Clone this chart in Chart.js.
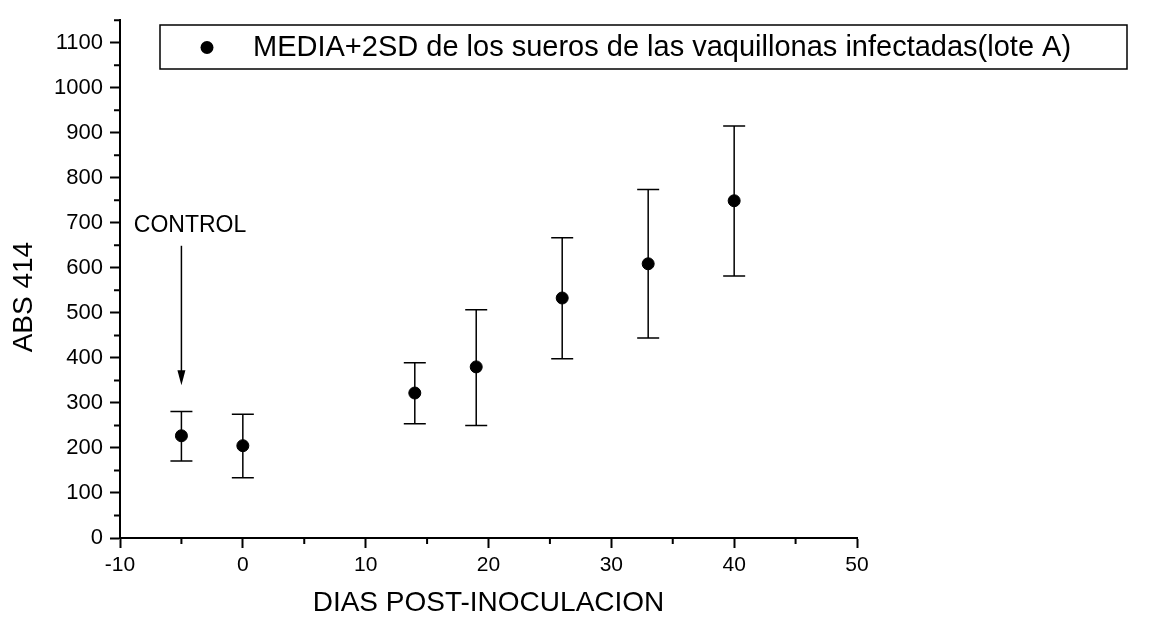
<!DOCTYPE html>
<html>
<head>
<meta charset="utf-8">
<script src="https://cdn.jsdelivr.net/npm/chart.js@4.4.1/dist/chart.umd.min.js"></script>
<style>
    html, body { margin: 0; padding: 0; background: #fff; }
    #wrap { width: 1156px; height: 622px; }
</style>
</head>
<body>
<div id="wrap"><canvas id="chart" width="1156" height="622"></canvas></div>
<script>
// values
const days = [-5, 0, 14, 19, 26, 33, 40];
const meanAbs = [227, 205, 322, 380, 533, 609, 749];
const lowerAbs = [171, 134, 254, 250, 398, 444, 582];
const upperAbs = [281, 275, 389, 507, 667, 774, 915];

const xTicks = [-10, 0, 10, 20, 30, 40, 50];
const xMinorTicks = [-5, 5, 15, 25, 35, 45];
const yTicks = [0, 100, 200, 300, 400, 500, 600, 700, 800, 900, 1000, 1100];
const yMinorTicks = [50, 150, 250, 350, 450, 550, 650, 750, 850, 950, 1050, 1150];

const seriesLabel = 'MEDIA+2SD de los sueros de las vaquillonas infectadas(lote A)';
const yTitle = 'ABS 414';
const FONT = "'Liberation Sans', Arial, sans-serif";

const errorBarPlugin = {
    id: 'errorBars',
    beforeDatasetsDraw(chart) {
        const { ctx, scales: { x, y } } = chart;
        ctx.save();
        ctx.strokeStyle = '#000';
        ctx.lineWidth = 1.5;
        days.forEach((d, i) => {
            const px = x.getPixelForValue(d);
            const top = y.getPixelForValue(upperAbs[i]);
            const bottom = y.getPixelForValue(lowerAbs[i]);
            ctx.beginPath();
            ctx.moveTo(px, top);
            ctx.lineTo(px, bottom);
            ctx.moveTo(px - 11, top);
            ctx.lineTo(px + 11, top);
            ctx.moveTo(px - 11, bottom);
            ctx.lineTo(px + 11, bottom);
            ctx.stroke();
        });
        ctx.restore();
    }
};

const minorTickPlugin = {
    id: 'minorTicks',
    afterDraw(chart) {
        const { ctx, scales: { x, y } } = chart;
        ctx.save();
        ctx.strokeStyle = '#000';
        ctx.lineWidth = 2;
        ctx.beginPath();
        xMinorTicks.forEach(v => {
            const px = x.getPixelForValue(v);
            ctx.moveTo(px, x.top);
            ctx.lineTo(px, x.top + 6);
        });
        yMinorTicks.forEach(v => {
            const py = y.getPixelForValue(v);
            ctx.moveTo(y.right, py);
            ctx.lineTo(y.right - 6, py);
        });
        ctx.stroke();

        // y title, sits a bit below the middle of the axis in the original
        ctx.fillStyle = '#000';
        ctx.font = '28px ' + FONT;
        ctx.textAlign = 'center';
        ctx.textBaseline = 'middle';
        ctx.translate(24, y.getPixelForValue(535));
        ctx.rotate(-Math.PI / 2);
        ctx.fillText(yTitle, 0, 0);
        ctx.restore();
    }
};

// "CONTROL" note with the arrow pointing at the first point
const controlNote = { text: 'CONTROL', x: -4.3, textY: 693, arrowFrom: 649, arrowTo: 339 };

const annotationPlugin = {
    id: 'controlNote',
    afterDatasetsDraw(chart) {
        const { ctx, scales: { x, y } } = chart;
        ctx.save();
        ctx.fillStyle = '#000';
        ctx.strokeStyle = '#000';
        ctx.font = '23px ' + FONT;
        ctx.textAlign = 'center';
        ctx.textBaseline = 'middle';
        ctx.fillText(controlNote.text, x.getPixelForValue(controlNote.x), y.getPixelForValue(controlNote.textY));

        const ax = x.getPixelForValue(days[0]);
        const y1 = y.getPixelForValue(controlNote.arrowFrom);
        const y2 = y.getPixelForValue(controlNote.arrowTo);
        ctx.lineWidth = 1.5;
        ctx.beginPath();
        ctx.moveTo(ax, y1);
        ctx.lineTo(ax, y2 - 10);
        ctx.stroke();
        ctx.beginPath();
        ctx.moveTo(ax, y2);
        ctx.lineTo(ax - 4, y2 - 15);
        ctx.lineTo(ax + 4, y2 - 15);
        ctx.closePath();
        ctx.fill();
        ctx.restore();
    }
};

const legendBoxPlugin = {
    id: 'legendBox',
    afterDraw(chart) {
        const { ctx } = chart;
        ctx.save();
        ctx.fillStyle = '#fff';
        ctx.fillRect(160, 25, 967, 44);
        ctx.strokeStyle = '#000';
        ctx.lineWidth = 1.5;
        ctx.strokeRect(160, 25, 967, 44);
        ctx.fillStyle = '#000';
        ctx.beginPath();
        ctx.arc(207, 47.5, 6.5, 0, Math.PI * 2);
        ctx.fill();
        ctx.font = '29px ' + FONT;
        ctx.textAlign = 'left';
        ctx.textBaseline = 'middle';
        ctx.fillText(chart.data.datasets[0].label, 253, 48);
        ctx.restore();
    }
};

function drawChart() {
    const data = {
        datasets: [{
            label: seriesLabel,
            data: days.map((d, i) => ({ x: d, y: meanAbs[i] })),
            backgroundColor: '#000',
            borderColor: '#000',
            pointRadius: 6,
            pointBorderWidth: 1,
            showLine: false
        }]
    };

    const config = {
        type: 'scatter',
        data: data,
        options: {
            responsive: false,
            animation: false,
            layout: {
                padding: { top: 12, right: 299, left: 0, bottom: 0 }
            },
            plugins: {
                legend: { display: false },
                tooltip: { enabled: false }
            },
            scales: {
                x: {
                    type: 'linear',
                    min: -10,
                    max: 50,
                    afterBuildTicks: scale => { scale.ticks = xTicks.map(v => ({ value: v })); },
                    afterFit: scale => { scale.height = 84; },
                    grid: { drawOnChartArea: false, drawTicks: true, tickLength: 10, tickWidth: 2, tickColor: '#000' },
                    border: { display: true, color: '#000', width: 2 },
                    ticks: { color: '#000', padding: 5, maxRotation: 0, font: { family: FONT, size: 21 }, callback: v => String(v) },
                    title: {
                        display: true,
                        text: 'DIAS POST-INOCULACION',
                        color: '#000',
                        font: { family: FONT, size: 28 },
                        padding: { top: 0, bottom: 2 }
                    }
                },
                y: {
                    type: 'linear',
                    min: 0,
                    max: 1150,
                    afterBuildTicks: scale => { scale.ticks = yTicks.map(v => ({ value: v })); },
                    afterFit: scale => { scale.width = 120; },
                    grid: { drawOnChartArea: false, drawTicks: true, tickLength: 10, tickWidth: 2, tickColor: '#000' },
                    border: { display: true, color: '#000', width: 2 },
                    ticks: { color: '#000', padding: 7, font: { family: FONT, size: 22 }, callback: v => String(v) },
                    title: { display: false }
                }
            }
        },
        plugins: [errorBarPlugin, minorTickPlugin, annotationPlugin, legendBoxPlugin]
    };

    const canvas = document.getElementById('chart');
    new Chart(canvas.getContext('2d'), config);
}

drawChart();
</script>
</body>
</html>
